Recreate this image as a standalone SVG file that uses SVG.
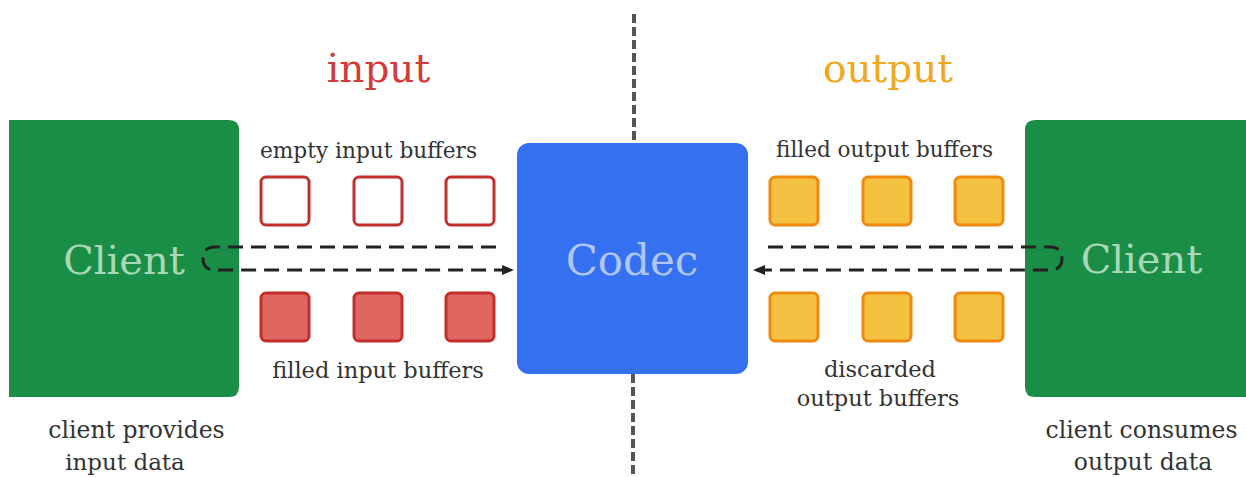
<svg xmlns="http://www.w3.org/2000/svg" width="1246" height="477" viewBox="0 0 1246 477">
  <style>
    .client { fill: #1A8D46; }
    .emptyBuf { fill: #FFFFFF; stroke: #C22E2B; stroke-width: 3; }
    .filledIn { fill: #E06662; stroke: #C22E2B; stroke-width: 3; }
    .outBuf { fill: #F4C142; stroke: #EE8A10; stroke-width: 3; }
    .flow { fill: none; stroke: #222; stroke-width: 3; stroke-dasharray: 15 8; }
    .divider { fill: none; stroke: #555; stroke-width: 4; stroke-dasharray: 9 4; }
  </style>
  <defs>
    <marker id="arrow" viewBox="0 0 12 10" refX="11" refY="5" markerWidth="12" markerHeight="10" markerUnits="userSpaceOnUse" orient="auto">
      <path d="M0,0 L12,5 L0,10 Z" fill="#222"/>
    </marker>
  </defs>
  <rect width="1246" height="477" fill="#FFFFFF"/>

  <!-- section dividers and titles -->
  <g id="divider">
    <line class="divider" x1="634" y1="14" x2="634" y2="143"/>
    <line class="divider" x1="633" y1="374" x2="633" y2="477"/>
  </g>
  <g id="title-input">
    <text font-family="DejaVu Serif" font-size="39" text-anchor="middle" x="378.5" y="82" fill="#D23A3A">input</text>
  </g>
  <g id="title-output">
    <text font-family="DejaVu Serif" font-size="39" text-anchor="middle" x="888" y="82" fill="#F2A81D">output</text>
  </g>

  <!-- left client -->
  <g id="client-in">
    <path class="client" d="M9,120 H229 Q239,120 239,130 V387 Q239,397 229,397 H9 Z"/>
    <text font-family="DejaVu Serif" font-size="40" text-anchor="middle" x="124" y="274" fill="#A8D8B8">Client</text>
    <text font-family="DejaVu Serif" font-size="23.5" text-anchor="middle" x="136.5" y="438" fill="#333">client provides</text>
    <text font-family="DejaVu Serif" font-size="23" text-anchor="middle" x="125" y="470" fill="#333">input data</text>
  </g>

  <!-- input buffers -->
  <g id="empty-input-buffers">
    <text font-family="DejaVu Serif" font-size="21.7" text-anchor="middle" x="368.5" y="158" fill="#333">empty input buffers</text>
    <rect class="emptyBuf" x="261" y="177" width="48" height="48" rx="5"/>
    <rect class="emptyBuf" x="354" y="177" width="48" height="48" rx="5"/>
    <rect class="emptyBuf" x="446" y="177" width="48" height="48" rx="5"/>
  </g>
  <g id="filled-input-buffers">
    <rect class="filledIn" x="261" y="293" width="48" height="48" rx="5"/>
    <rect class="filledIn" x="354" y="293" width="48" height="48" rx="5"/>
    <rect class="filledIn" x="446" y="293" width="48" height="48" rx="5"/>
    <text font-family="DejaVu Serif" font-size="22.5" text-anchor="middle" x="378" y="378" fill="#333">filled input buffers</text>
  </g>

  <!-- codec -->
  <g id="codec">
    <rect x="517" y="143" width="231" height="231" rx="12" fill="#3570F1"/>
    <text font-family="DejaVu Serif" font-size="42" text-anchor="middle" x="632" y="275" fill="#AFC7F6">Codec</text>
  </g>

  <!-- output buffers -->
  <g id="filled-output-buffers">
    <text font-family="DejaVu Serif" font-size="21.5" text-anchor="middle" x="884.5" y="157" fill="#333">filled output buffers</text>
    <rect class="outBuf" x="770" y="177" width="48" height="48" rx="5"/>
    <rect class="outBuf" x="863" y="177" width="48" height="48" rx="5"/>
    <rect class="outBuf" x="955" y="177" width="48" height="48" rx="5"/>
  </g>
  <g id="discarded-output-buffers">
    <rect class="outBuf" x="770" y="293" width="48" height="48" rx="5"/>
    <rect class="outBuf" x="863" y="293" width="48" height="48" rx="5"/>
    <rect class="outBuf" x="955" y="293" width="48" height="48" rx="5"/>
    <text font-family="DejaVu Serif" font-size="22.5" text-anchor="middle" x="880" y="377" fill="#333">discarded</text>
    <text font-family="DejaVu Serif" font-size="22.5" text-anchor="middle" x="878" y="406" fill="#333">output buffers</text>
  </g>

  <!-- right client -->
  <g id="client-out">
    <path class="client" d="M1035,120 H1250 V397 H1035 Q1025,397 1025,387 V130 Q1025,120 1035,120 Z"/>
    <text font-family="DejaVu Serif" font-size="40" text-anchor="middle" x="1141.5" y="273" fill="#A8D8B8">Client</text>
    <text font-family="DejaVu Serif" font-size="23.5" text-anchor="middle" x="1141.5" y="438" fill="#333">client consumes</text>
    <text font-family="DejaVu Serif" font-size="23.5" text-anchor="middle" x="1143" y="470" fill="#333">output data</text>
  </g>

  <!-- data flow loops, drawn over the client boxes -->
  <g id="connectors">
    <path class="flow" d="M496,247 H215 Q203,247 203,258.5 Q203,270 215,270 H513" marker-end="url(#arrow)"/>
    <path class="flow" d="M768,247 H1050 Q1062,247 1062,258.5 Q1062,270 1050,270 H754" marker-end="url(#arrow)"/>
  </g>
</svg>
